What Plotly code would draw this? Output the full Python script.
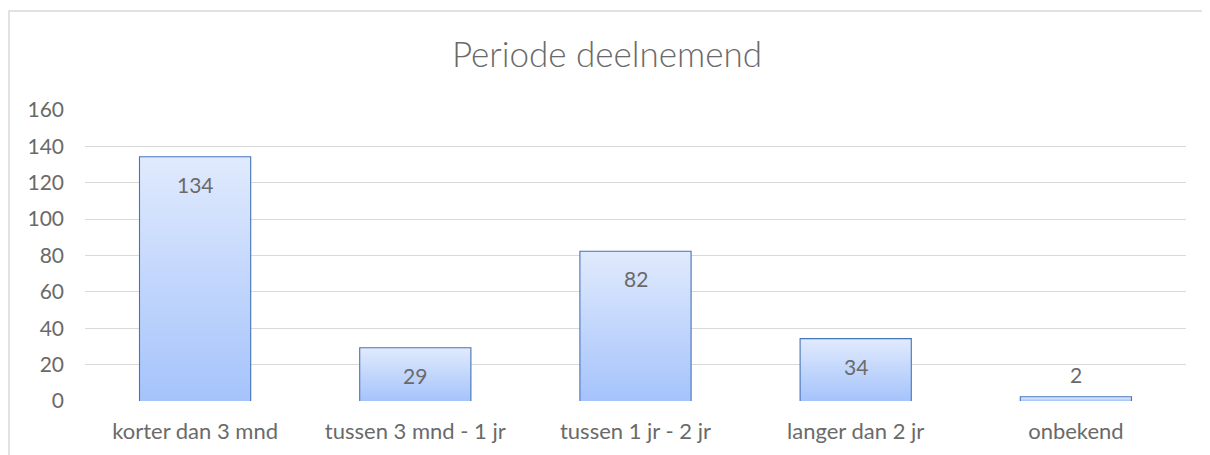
import plotly.graph_objects as go

categories = ["korter dan 3 mnd", "tussen 3 mnd - 1 jr", "tussen 1 jr - 2 jr", "langer dan 2 jr", "onbekend"]
values = [134, 29, 82, 34, 2]
y_ticks = [0, 20, 40, 60, 80, 100, 120, 140, 160]

# page body has an 8px margin, so the figure is shifted by 8px in the window
OFF = 8
W, H = 1210 - OFF, 455 - OFF
ML, MR, MT, MB = 85 - OFF, 24, 110 - OFF, 54
TXT = "#6a6a6a"
FONT = "Lato, Carlito, Calibri, sans-serif"
BAR_W = 0.5

fig = go.Figure()

# gradient-filled bar bodies (one per bar so each gets its own gradient)
for i, v in enumerate(values):
    x0, x1 = i - BAR_W / 2, i + BAR_W / 2
    fig.add_trace(go.Scatter(
        x=[x0, x1, x1, x0, x0], y=[0, 0, v, v, 0],
        mode="lines", line=dict(width=0), fill="toself",
        fillgradient=dict(type="vertical",
                          colorscale=[[0, "#a5c3fb"], [1, "#e0eafd"]]),
        hoverinfo="skip", showlegend=False,
    ))

# outlines
fig.add_trace(go.Bar(
    x=list(range(len(categories))), y=values, width=BAR_W,
    marker=dict(color="rgba(0,0,0,0)", line=dict(color="#4674b8", width=2.2)),
    hoverinfo="skip", showlegend=False,
))

# data labels
for i, v in enumerate(values):
    inside = v > 10
    fig.add_annotation(
        x=i, y=v, text=str(v), showarrow=False,
        yshift=-27 if inside else 23,
        font=dict(family=FONT, size=21, color=TXT),
    )

# chart frame
fw = W - ML - MR
fh = H - MT - MB
fig.add_shape(type="rect", xref="paper", yref="paper",
              x0=(1 - ML) / fw, x1=(W + 20 - ML) / fw,
              y0=-(MB + 20) / fh, y1=(MT - 3) / fh + 1,
              line=dict(color="#d9d9d9", width=1.5), fillcolor="rgba(0,0,0,0)",
              layer="below")

fig.update_layout(
    width=W, height=H,
    margin=dict(l=ML, r=MR, t=MT, b=MB),
    paper_bgcolor="white", plot_bgcolor="white",
    title=dict(text="Periode deelnemend", x=(607 - OFF) / W, xanchor="center",
               y=1 - (55 - OFF) / H, yanchor="middle",
               font=dict(family=FONT, size=35, color=TXT, weight=300)),
    xaxis=dict(range=[-0.5, len(categories) - 0.5], tickvals=list(range(len(categories))),
               ticktext=categories, showgrid=False, zeroline=False, showline=False,
               ticks="", ticklabelstandoff=15,
               tickfont=dict(family=FONT, size=22, color=TXT), fixedrange=True),
    yaxis=dict(range=[0, 160], tickvals=y_ticks, showgrid=True, gridcolor="#d9d9d9",
               gridwidth=1.3, zeroline=False, showline=False, ticks="",
               ticklabelstandoff=20,
               tickfont=dict(family=FONT, size=21, color=TXT), fixedrange=True),
    bargap=0.5,
)

fig.write_html("out.html")
